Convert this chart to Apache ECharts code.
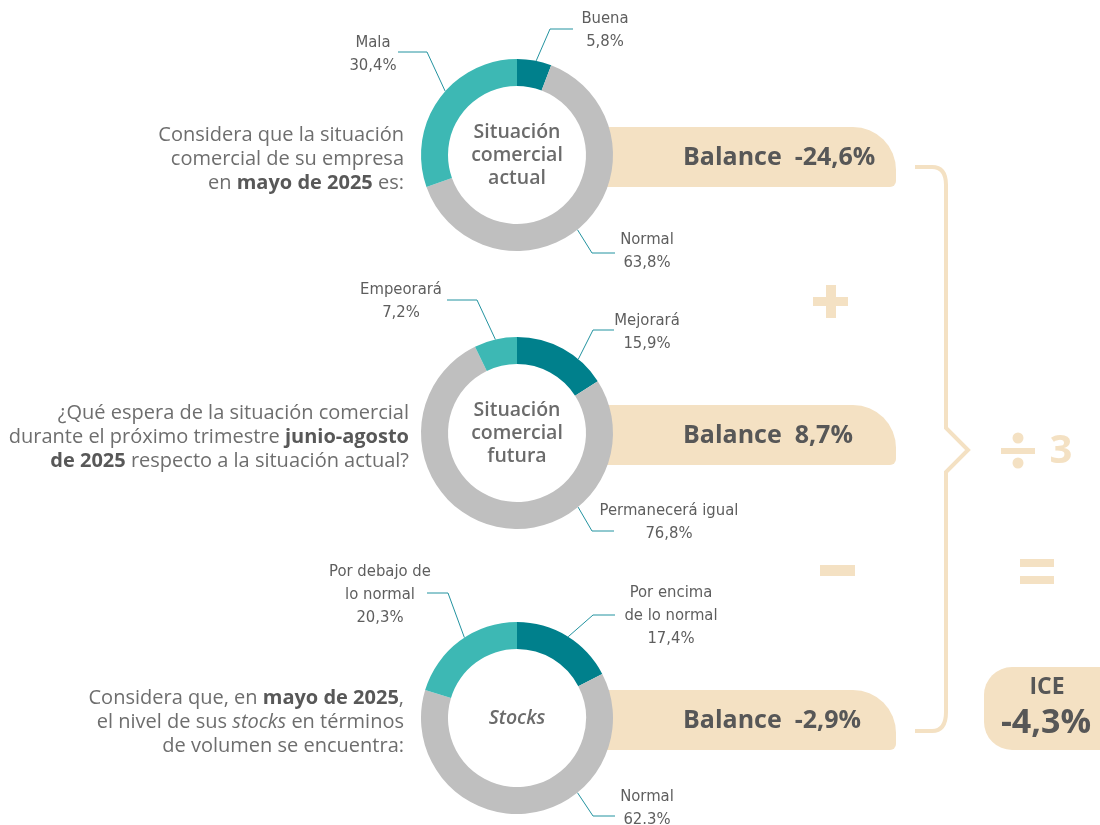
<!DOCTYPE html>
<html>
<head>
<meta charset="utf-8">
<script src="https://cdn.jsdelivr.net/npm/echarts@6/dist/echarts.min.js"></script>
<style>
  html, body { margin: 0; padding: 0; background: #fff; }
  #chart { width: 1100px; height: 825px; }
</style>
</head>
<body>
<div id="chart"></div>
<script>
// Survey data (percentages)
const actualNames = ["Buena", "Normal", "Mala"]
const actualValues = [5.8, 63.8, 30.4]
const actualText = ["5,8%", "63,8%", "30,4%"]

const futuraNames = ["Mejorará", "Permanecerá igual", "Empeorará"]
const futuraValues = [15.9, 76.8, 7.2]
const futuraText = ["15,9%", "76,8%", "7,2%"]

const stocksNames = ["Por encima\nde lo normal", "Normal", "Por debajo de\nlo normal"]
const stocksValues = [17.4, 62.3, 20.3]
const stocksText = ["17,4%", "62.3%", "20,3%"]

const balances = ["-24,6%", "8,7%", "-2,9%"]
const iceValue = "-4,3%"

// Styling
const SLICE_COLORS = ["#00808c", "#bfbfbf", "#3db8b4"]
const TAN = "#f4e1c3"
const LINE_COLOR = "#2393a0"
const MAIN_FONT = "'Open Sans', 'Noto Sans', sans-serif"
const COND_FONT = "'Liberation Sans Narrow', 'DejaVu Sans Condensed', sans-serif"
const R_IN = 69
const R_OUT = 96
const CENTERS = [[517, 155], [517, 433], [517, 718]]

// where each label and its leader line sit
const LABEL_GEOM = [
  [
    { angle: 11.5, elbow: [550, 29], endX: 573, text: [605, 30] },
    { angle: 141, elbow: [592, 253], endX: 615, text: [647, 251] },
    { angle: 311.6, elbow: [427, 52], endX: 398, text: [373, 54] },
  ],
  [
    { angle: 39.7, elbow: [593, 330], endX: 614, text: [647, 332] },
    { angle: 140.5, elbow: [592, 531], endX: 614, text: [669, 522] },
    { angle: 347, elbow: [477, 300], endX: 447, text: [401, 301] },
  ],
  [
    { angle: 32.2, elbow: [593, 615], endX: 615, text: [671, 616] },
    { angle: 141, elbow: [593, 816], endX: 615, text: [647, 808] },
    { angle: 326.8, elbow: [448, 593], endX: 427, text: [380, 595] },
  ],
]

const donut = (idx, names, values, texts) => {
  const center = CENTERS[idx]
  return {
    type: "pie",
    center: center,
    radius: [R_IN, R_OUT],
    startAngle: 90,
    clockwise: true,
    avoidLabelOverlap: false,
    silent: true,
    emphasis: { disabled: true },
    data: names.map((n, i) => ({ name: n, value: values[i], itemStyle: { color: SLICE_COLORS[i] } })),
    label: {
      show: true,
      position: "outside",
      formatter: (p) => names[p.dataIndex] + "\n" + texts[p.dataIndex],
      fontFamily: COND_FONT,
      fontSize: 16.5,
      lineHeight: 23,
      color: "#5e5e5e",
    },
    labelLine: { show: true, lineStyle: { color: LINE_COLOR, width: 1 } },
    labelLayout: (p) => {
      const g = LABEL_GEOM[idx][p.dataIndex]
      const a = (g.angle * Math.PI) / 180
      const anchor = [center[0] + R_OUT * Math.sin(a), center[1] - R_OUT * Math.cos(a)]
      return {
        x: g.text[0],
        y: g.text[1],
        align: "center",
        verticalAlign: "middle",
        labelLinePoints: [anchor, g.elbow, [g.endX, g.elbow[1]]],
      }
    },
  }
}

const pill = (y) => ({
  type: "rect",
  z: 0,
  shape: { x: 600, y: y, width: 296, height: 60, r: [0, 43, 6, 0] },
  style: { fill: TAN },
})

const balanceText = (y, v) => ({
  type: "text",
  z: 10,
  x: 683,
  y: y,
  style: {
    text: "Balance  " + v,
    fill: "#575757",
    font: "bold 25px " + MAIN_FONT,
    verticalAlign: "middle",
  },
})

const centerText = (y, text, italic) => ({
  type: "text",
  z: 10,
  x: 517,
  y: y,
  style: {
    text: text,
    fill: "#6b6b6b",
    font: (italic ? "italic " : "") + "600 19.5px " + MAIN_FONT,
    lineHeight: 23,
    align: "center",
    verticalAlign: "middle",
  },
})

const Q_SIZE = 20
const QRICH = {
  b: { fontWeight: "bold", fill: "#585858", fontSize: Q_SIZE, fontFamily: MAIN_FONT },
  i: { fontStyle: "italic", fill: "#6e6e6e", fontSize: Q_SIZE, fontFamily: MAIN_FONT },
}

const question = (x, y, text) => ({
  type: "text",
  z: 10,
  x: x,
  y: y,
  style: {
    text: text,
    rich: QRICH,
    fill: "#6e6e6e",
    fontSize: Q_SIZE,
    fontFamily: MAIN_FONT,
    lineHeight: 24,
    align: "right",
    verticalAlign: "middle",
  },
})

const bar = (x, y, w, h) => ({ type: "rect", z: 1, shape: { x, y, width: w, height: h }, style: { fill: TAN } })
const braceStyle = { stroke: TAN, lineWidth: 4, fill: null }

const chart = echarts.init(document.getElementById("chart"), null, { renderer: "canvas" })

const option = {
  backgroundColor: "#fff",
  animation: false,
  series: [
    donut(0, actualNames, actualValues, actualText),
    donut(1, futuraNames, futuraValues, futuraText),
    donut(2, stocksNames, stocksValues, stocksText),
  ],
  graphic: {
    elements: [
      pill(127),
      pill(405),
      pill(690),
      balanceText(158, balances[0]),
      balanceText(436, balances[1]),
      balanceText(721, balances[2]),
      centerText(155, "Situación\ncomercial\nactual"),
      centerText(433, "Situación\ncomercial\nfutura"),
      centerText(718, "Stocks", true),
      question(404, 159, "Considera que la situación\ncomercial de su empresa\nen {b|mayo de 2025} es:"),
      question(409, 437, "¿Qué espera de la situación comercial\ndurante el próximo trimestre {b|junio-agosto}\n{b|de 2025} respecto a la situación actual?"),
      question(404, 722, "Considera que, en {b|mayo de 2025},\nel nivel de sus {i|stocks} en términos\nde volumen se encuentra:"),
      // brace
      { type: "line", z: 1, shape: { x1: 915, y1: 167, x2: 932, y2: 167 }, style: braceStyle },
      { type: "bezierCurve", z: 1, shape: { x1: 932, y1: 167, cpx1: 946, cpy1: 167, x2: 946, y2: 185 }, style: braceStyle },
      {
        type: "polyline",
        z: 1,
        shape: { points: [[946, 185], [946, 428], [968, 450], [946, 472], [946, 712]] },
        style: braceStyle,
      },
      { type: "bezierCurve", z: 1, shape: { x1: 946, y1: 712, cpx1: 946, cpy1: 731, x2: 932, y2: 731 }, style: braceStyle },
      { type: "line", z: 1, shape: { x1: 932, y1: 731, x2: 915, y2: 731 }, style: braceStyle },
      // plus
      bar(813, 297, 35, 9),
      bar(826, 285, 10, 33),
      // minus
      bar(820, 565, 35, 11),
      // divide 3
      bar(1001, 448, 34, 6),
      { type: "circle", z: 1, shape: { cx: 1018, cy: 438, r: 5.5 }, style: { fill: TAN } },
      { type: "circle", z: 1, shape: { cx: 1018, cy: 463, r: 5.5 }, style: { fill: TAN } },
      {
        type: "text",
        z: 1,
        x: 1061,
        y: 452,
        style: { text: "3", fill: TAN, font: "bold 40px " + MAIN_FONT, align: "center", verticalAlign: "middle" },
      },
      // equals
      bar(1020, 559, 34, 8),
      bar(1020, 576, 34, 8),
      // ICE box
      { type: "rect", z: 0, shape: { x: 984, y: 667, width: 150, height: 83, r: 28 }, style: { fill: TAN } },
      {
        type: "text",
        z: 10,
        x: 1047,
        y: 687,
        style: { text: "ICE", fill: "#575757", font: "bold 23px " + MAIN_FONT, align: "center", verticalAlign: "middle" },
      },
      {
        type: "text",
        z: 10,
        x: 1046,
        y: 723,
        style: { text: iceValue, fill: "#575757", font: "bold 34px " + MAIN_FONT, align: "center", verticalAlign: "middle" },
      },
    ],
  },
}

chart.setOption(option)
</script>
</body>
</html>
